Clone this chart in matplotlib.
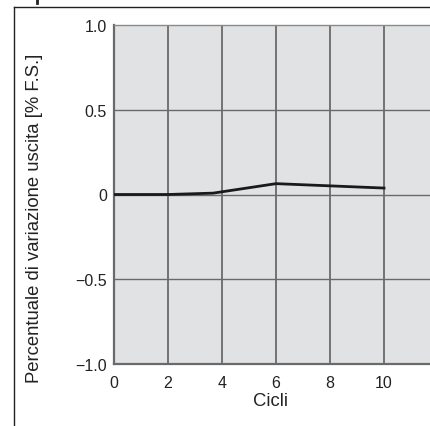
import matplotlib
matplotlib.use("Agg")
import matplotlib.pyplot as plt
from matplotlib.lines import Line2D

plt.rcParams['font.family'] = ['Liberation Sans', 'DejaVu Sans']

cycles = [0, 2, 3.67, 6, 10]
variation = [0.0, 0.0, 0.008, 0.064, 0.038]
xticks = [0, 2, 4, 6, 8, 10]
yticks = [-1.0, -0.5, 0.0, 0.5, 1.0]
ytick_labels = ['\u22121.0', '\u22120.5', '0', '0.5', '1.0']

W, H = 430, 427
fig = plt.figure(figsize=(W/100, H/100), dpi=100)

# outer frame fragment
fig.add_artist(Line2D([14/W, 1], [1-8/H, 1-8/H], color='#222222', lw=1.0))
fig.add_artist(Line2D([14/W, 14/W], [0, 1-8/H], color='#222222', lw=1.0))
fig.add_artist(Line2D([37/W, 37/W], [1-0/H, 1-4/H], color='#222222', lw=2.0))

left, right, top, bottom = 114, 114 + 12*27, 26, 365
ax = fig.add_axes([left/W, 1-bottom/H, (right-left)/W, (bottom-top)/H])
ax.set_facecolor('#e1e2e4')
ax.set_xlim(0, 12)
ax.set_ylim(-1, 1)
ax.set_xticks(xticks)
ax.set_yticks(yticks)
ax.set_yticklabels(ytick_labels)
ax.tick_params(length=0, labelsize=11.5, colors='#222222')
ax.tick_params(axis='x', pad=8)
ax.tick_params(axis='y', pad=5)
for x in [2, 4, 6, 8, 10]:
    ax.axvline(x, color='#6a6a6a', lw=1.3, zorder=1)
for y in [-0.5, 0, 0.5]:
    ax.axhline(y, color='#6a6a6a', lw=1.0, zorder=1)
for s in ['left', 'bottom']:
    ax.spines[s].set_color('#6a6a6a')
    ax.spines[s].set_linewidth(1.6)
ax.spines['top'].set_color('#8a8a8a')
ax.spines['top'].set_linewidth(1.0)
ax.spines['right'].set_visible(False)

ax.plot(cycles, variation, color='#1a1a1a', lw=2.0, zorder=3)

ax.set_xlabel('Cicli', fontsize=13.3, color='#222222')
ax.set_ylabel('Percentuale di variazione uscita [% F.S.]', fontsize=13.3, color='#222222')
ax.xaxis.set_label_coords(0.483, -0.082)
ax.yaxis.set_label_coords(-0.219, 0.434)

fig.savefig('out.png', dpi=100)
